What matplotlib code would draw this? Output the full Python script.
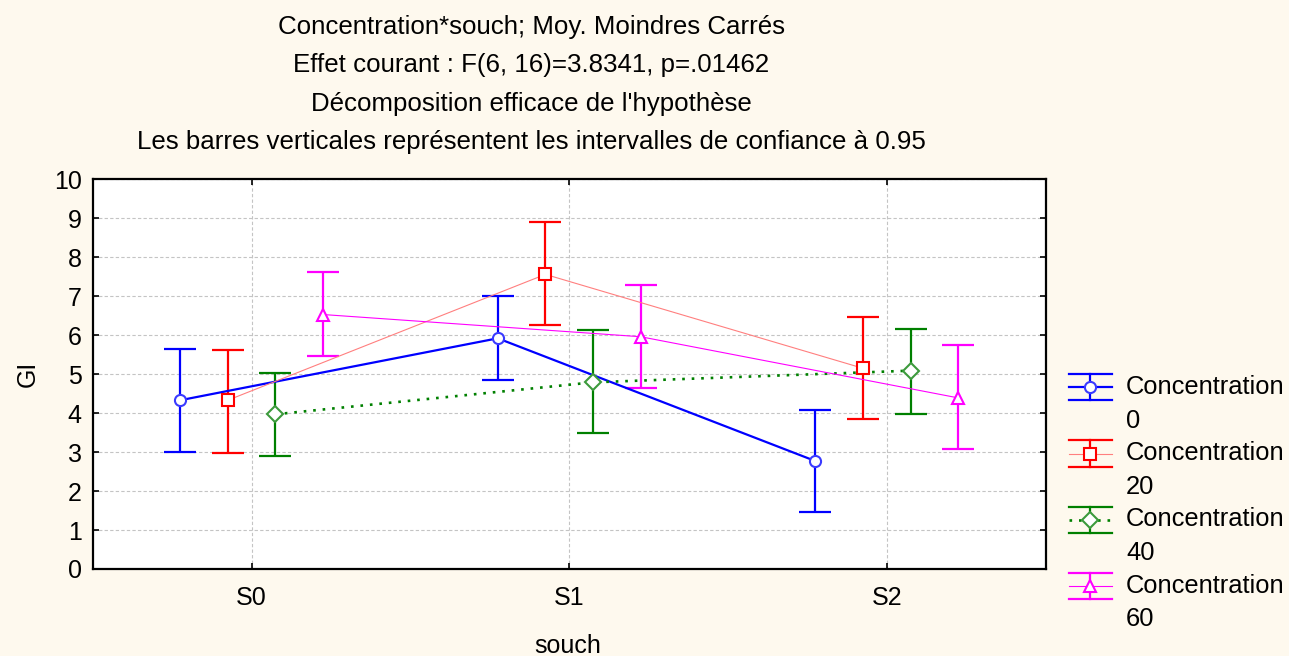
import matplotlib
matplotlib.use("Agg")
import matplotlib.pyplot as plt
from matplotlib.lines import Line2D
from matplotlib.legend_handler import HandlerBase
import numpy as np

# ---- data ----
souch = ["S0", "S1", "S2"]
series_labels = ["Concentration\n0", "Concentration\n20", "Concentration\n40", "Concentration\n60"]

c0_mean = [4.33, 5.92, 2.77]
c0_lo = [3.01, 4.85, 1.45]
c0_hi = [5.65, 7.00, 4.09]

c20_mean = [4.33, 7.56, 5.15]
c20_lo = [2.97, 6.27, 3.84]
c20_hi = [5.62, 8.91, 6.47]

c40_mean = [3.97, 4.79, 5.09]
c40_lo = [2.89, 3.48, 3.99]
c40_hi = [5.04, 6.13, 6.15]

c60_mean = [6.53, 5.96, 4.39]
c60_lo = [5.46, 4.65, 3.09]
c60_hi = [7.62, 7.30, 5.74]

title_lines = [
    "Concentration*souch; Moy. Moindres Carrés",
    "Effet courant : F(6, 16)=3.8341, p=.01462",
    "Décomposition efficace de l'hypothèse",
    "Les barres verticales représentent les intervalles de confiance à 0.95",
]

# ---- style ----
BG = "#FEF9EE"
FONT = ["Liberation Sans", "DejaVu Sans"]
plt.rcParams["font.family"] = FONT

styles = [
    dict(bar="#0000FF", line="#0000FF", ls="-", lw=1.6, marker="o", ms=8, mec="#3a3aff"),
    dict(bar="#FF0000", line="#FF7F7F", ls="-", lw=0.8, marker="s", ms=8.5, mec="#FF0000"),
    dict(bar="#008000", line="#008000", ls=(0, (1, 2.6)), lw=1.9, marker="D", ms=8, mec="#3c9a3c"),
    dict(bar="#FF00FF", line="#FF00FF", ls="-", lw=0.8, marker="^", ms=8, mec="#FF00FF"),
]
offsets = [-0.225, -0.075, 0.075, 0.225]

W, H = 1289, 656
fig = plt.figure(figsize=(W / 100, H / 100), dpi=100, facecolor=BG)
ax = fig.add_axes([92.7 / W, 1 - 569 / H, (1045.7 - 92.7) / W, (569 - 179.3) / H])
ax.set_facecolor("white")

means = [c0_mean, c20_mean, c40_mean, c60_mean]
los = [c0_lo, c20_lo, c40_lo, c60_lo]
his = [c0_hi, c20_hi, c40_hi, c60_hi]

x = np.arange(len(souch))
for k in range(4):
    st = styles[k]
    m = np.array(means[k]); lo = np.array(los[k]); hi = np.array(his[k])
    xx = x + offsets[k]
    ax.errorbar(xx, m, yerr=[m - lo, hi - m], fmt="none", ecolor=st["bar"],
                elinewidth=1.6, capsize=11.5, capthick=1.6, zorder=3)
    ax.plot(xx, m, color=st["line"], ls=st["ls"], lw=st["lw"], zorder=4)
    ax.plot(xx, m, ls="none", marker=st["marker"], ms=st["ms"], mfc="white",
            mec=st["mec"], mew=1.5, zorder=5)

ax.set_xlim(-0.5, 2.5)
ax.set_ylim(0, 10)
ax.set_xticks(x)
ax.set_xticklabels(souch)
ax.set_yticks(range(0, 11))
ax.tick_params(direction="in", length=4, width=1.2, top=True, right=True,
               labelsize=18, pad=8, colors="black")
ax.tick_params(axis="x", pad=12)
ax.grid(True, color="#c4c4c4", ls=(0, (3, 2)), lw=0.8)
ax.set_axisbelow(True)
for sp in ax.spines.values():
    sp.set_linewidth(1.6)

fig.text(28 / W, 1 - 374 / H, "GI", rotation=90, ha="center", va="center", fontsize=18)
fig.text(568 / W, 1 - 646 / H, "souch", ha="center", va="center", fontsize=18)

for i, line in enumerate(title_lines):
    fig.text(531 / W, 1 - (27 + 38.3 * i) / H, line, ha="center", va="center",
             fontsize=18.6)


LEG_FS = 18.4
LINE_SP = 1.5


class HandlerCI(HandlerBase):
    def __init__(self, st):
        super().__init__()
        self.st = st

    def create_artists(self, legend, orig_handle, xdescent, ydescent, width, height,
                       fontsize, trans):
        st = self.st
        # align the glyph with the first text line (text block is centred on the box)
        shift = 12.2
        cy = height / 2 - ydescent + shift
        cx = width / 2 - xdescent
        x0, x1 = -xdescent, width - xdescent
        dy = 9.4
        arts = []
        for yy in (cy + dy, cy - dy):
            arts.append(Line2D([x0, x1], [yy, yy], color=st["bar"], lw=1.6, transform=trans))
        arts.append(Line2D([cx, cx], [cy - dy, cy + dy], color=st["bar"], lw=1.6, transform=trans))
        arts.append(Line2D([x0, x1], [cy, cy], color=st["line"], ls=st["ls"], lw=st["lw"], transform=trans))
        arts.append(Line2D([cx], [cy], ls="none", marker=st["marker"], ms=st["ms"], mfc="white",
                           mec=st["mec"], mew=1.5, transform=trans))
        return arts


handles = [Line2D([], [], color=s["bar"]) for s in styles]
hmap = {h: HandlerCI(s) for h, s in zip(handles, styles)}
leg = fig.legend(handles, series_labels, handler_map=hmap, loc="upper left",
                 bbox_to_anchor=(1069 / W, 1 - 375 / H), frameon=False, fontsize=LEG_FS,
                 handlelength=1.68, handletextpad=0.55, labelspacing=0.34,
                 borderpad=0, borderaxespad=0)
for t in leg.get_texts():
    t.set_linespacing(LINE_SP)

fig.savefig("out.png", dpi=100, facecolor=BG)
